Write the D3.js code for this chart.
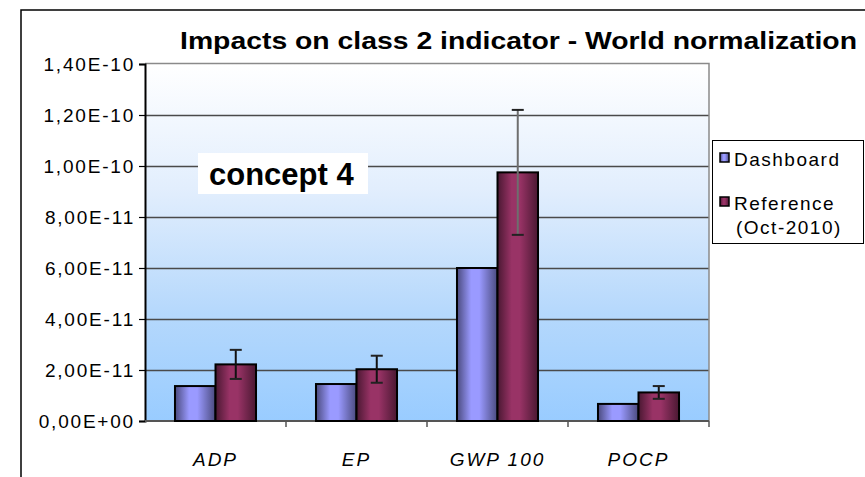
<!DOCTYPE html>
<html>
<head>
<meta charset="utf-8">
<script src="https://cdn.jsdelivr.net/npm/d3@7"></script>
<style>
  html, body { margin: 0; padding: 0; background: #ffffff; }
  svg { display: block; }
  text { font-family: "Liberation Sans", Arial, sans-serif; }
</style>
</head>
<body>
<div id="chart"></div>
<script>
// Indicator categories and series
const categories = ["ADP", "EP", "GWP 100", "POCP"];
const seriesNames = ["Dashboard", "Reference"];
const legendLabels = [["Dashboard"], ["Reference", "(Oct-2010)"]];
const dashboardValues = [1.37e-11, 1.45e-11, 6.0e-11, 0.67e-11];
const referenceValues = [2.22e-11, 2.03e-11, 9.75e-11, 1.12e-11];
const referenceErrors = [0.57e-11, 0.53e-11, 2.45e-11, 0.25e-11];
const yTicks = [0, 2e-11, 4e-11, 6e-11, 8e-11, 1e-10, 1.2e-10, 1.4e-10];
const titleText = "Impacts on class 2 indicator - World normalization";
const noteText = "concept 4";

const W = 865, H = 477;
const plot = { left: 145, right: 709, top: 64, bottom: 421 };

const svg = d3.select("#chart").append("svg")
  .attr("width", W).attr("height", H);

const defs = svg.append("defs");

// Plot background: white at top fading to light blue
const bg = defs.append("linearGradient").attr("id", "bgGrad")
  .attr("x1", 0).attr("y1", 0).attr("x2", 0).attr("y2", 1);
bg.append("stop").attr("offset", "0%").attr("stop-color", "#ffffff");
bg.append("stop").attr("offset", "35%").attr("stop-color", "#e2eefd");
bg.append("stop").attr("offset", "70%").attr("stop-color", "#b5d8fc");
bg.append("stop").attr("offset", "100%").attr("stop-color", "#99ccff");

// Cylinder-like shading for the bars
function barGradient(id, dark, light) {
  const g = defs.append("linearGradient").attr("id", id)
    .attr("x1", 0).attr("y1", 0).attr("x2", 1).attr("y2", 0);
  g.append("stop").attr("offset", "0%").attr("stop-color", dark);
  g.append("stop").attr("offset", "35%").attr("stop-color", light);
  g.append("stop").attr("offset", "55%").attr("stop-color", light);
  g.append("stop").attr("offset", "100%").attr("stop-color", dark);
}
barGradient("gradDash", "#4a4a7e", "#9a9aff");
barGradient("gradRef", "#4a1832", "#993366");
const fills = { Dashboard: "url(#gradDash)", Reference: "url(#gradRef)" };

// Outer chart frame
svg.append("rect")
  .attr("x", 21).attr("y", 10).attr("width", 1000).attr("height", 1000)
  .attr("fill", "none").attr("stroke", "#000").attr("stroke-width", 1.5);

// Scales
const x = d3.scaleBand().domain(categories)
  .range([plot.left, plot.right]).paddingInner(0).paddingOuter(0);
const xSub = d3.scaleBand().domain(seriesNames)
  .range([0, x.bandwidth()]).paddingInner(0).paddingOuter(0.74);
const y = d3.scaleLinear().domain([0, 1.4e-10]).range([plot.bottom, plot.top]);

// Background of plot area
svg.append("rect")
  .attr("x", plot.left).attr("y", plot.top)
  .attr("width", plot.right - plot.left).attr("height", plot.bottom - plot.top)
  .attr("fill", "url(#bgGrad)");

// Grid lines
svg.append("g").selectAll("line")
  .data(yTicks.filter(d => d > 0 && d < 1.4e-10))
  .join("line")
  .attr("x1", plot.left).attr("x2", plot.right)
  .attr("y1", d => Math.round(y(d)) + 0.5).attr("y2", d => Math.round(y(d)) + 0.5)
  .attr("stroke", "#4a4a4a").attr("stroke-width", 1.5);

// Plot top and right borders
svg.append("path")
  .attr("d", `M${plot.left},${plot.top - 0.5}H${plot.right}V${plot.bottom}`)
  .attr("fill", "none").attr("stroke", "#8a8a8a").attr("stroke-width", 1.5);

// Tick label format: 1,40E-10
function sciFormat(v) {
  const [m, e] = v.toExponential(2).split("e");
  const sign = e[0] === "-" ? "-" : "+";
  const digits = e.replace(/[+-]/, "").padStart(2, "0");
  return m.replace(".", ",") + "E" + sign + digits;
}

// Y axis
const yAxis = d3.axisLeft(y).tickValues(yTicks).tickFormat(sciFormat)
  .tickSize(6).tickPadding(4);
const yg = svg.append("g").attr("transform", `translate(${plot.left},0)`).call(yAxis);
yg.select(".domain").attr("stroke", "#000").attr("stroke-width", 2);
yg.selectAll(".tick line").attr("stroke", "#000").attr("stroke-width", 1.2);
yg.selectAll(".tick text")
  .attr("font-size", 19).attr("letter-spacing", 1.8).attr("fill", "#000")
  .attr("font-family", "'Liberation Sans', Arial, sans-serif");

// X axis
const bottomAxis = svg.append("g").attr("transform", `translate(0,${plot.bottom})`);
bottomAxis.append("line")
  .attr("x1", plot.left).attr("x2", plot.right)
  .attr("stroke", "#555").attr("stroke-width", 2);
bottomAxis.selectAll("line.tk")
  .data(categories)
  .join("line").attr("class", "tk")
  .attr("x1", d => x(d) + x.bandwidth()).attr("x2", d => x(d) + x.bandwidth())
  .attr("y1", 0).attr("y2", 6)
  .attr("stroke", "#555").attr("stroke-width", 1.5);
bottomAxis.selectAll("text")
  .data(categories)
  .join("text")
  .attr("x", d => x(d) + x.bandwidth() / 2)
  .attr("y", 45)
  .attr("text-anchor", "middle")
  .attr("font-size", 19).attr("font-style", "italic").attr("letter-spacing", 2)
  .attr("fill", "#000")
  .text(d => d);

// Bars
const rows = categories.map((c, i) => ({
  cat: c,
  vals: [
    { s: "Dashboard", v: dashboardValues[i] },
    { s: "Reference", v: referenceValues[i], err: referenceErrors[i] }
  ]
}));

const groups = svg.append("g").selectAll("g")
  .data(rows).join("g")
  .attr("transform", d => `translate(${x(d.cat)},0)`);

groups.selectAll("rect")
  .data(d => d.vals).join("rect")
  .attr("x", d => xSub(d.s))
  .attr("y", d => y(d.v))
  .attr("width", xSub.bandwidth())
  .attr("height", d => y(0) - y(d.v))
  .attr("fill", d => fills[d.s])
  .attr("stroke", "#000").attr("stroke-width", 2);

// Error bars on the reference series
const errs = groups.selectAll("g.err")
  .data(d => d.vals.filter(v => v.err != null)).join("g").attr("class", "err");
errs.append("line")
  .attr("x1", d => xSub(d.s) + xSub.bandwidth() / 2)
  .attr("x2", d => xSub(d.s) + xSub.bandwidth() / 2)
  .attr("y1", d => y(d.v + d.err)).attr("y2", d => y(d.v - d.err))
  .attr("stroke", d => d.err > 2e-11 ? "#6e6e6e" : "#111").attr("stroke-width", 2);
errs.selectAll("line.cap")
  .data(d => [d.v + d.err, d.v - d.err].map(t => ({ t, s: d.s })))
  .join("line").attr("class", "cap")
  .attr("x1", d => xSub(d.s) + xSub.bandwidth() / 2 - 6)
  .attr("x2", d => xSub(d.s) + xSub.bandwidth() / 2 + 6)
  .attr("y1", d => y(d.t)).attr("y2", d => y(d.t))
  .attr("stroke", "#222").attr("stroke-width", 2);

// Title
svg.append("text")
  .attr("x", 180).attr("y", 49)
  .attr("font-size", 24).attr("font-weight", "bold")
  .attr("textLength", 677).attr("lengthAdjust", "spacingAndGlyphs")
  .attr("fill", "#000")
  .text(titleText);

// Annotation box
svg.append("rect")
  .attr("x", 198).attr("y", 153).attr("width", 170).attr("height", 41)
  .attr("fill", "#ffffff");
svg.append("text")
  .attr("x", 209).attr("y", 185)
  .attr("font-size", 31).attr("font-weight", "bold")
  .attr("fill", "#000")
  .text(noteText);

// Legend
const lg = svg.append("g");
lg.append("rect")
  .attr("x", 712.5).attr("y", 140.5).attr("width", 151).attr("height", 103)
  .attr("fill", "#fff").attr("stroke", "#000").attr("stroke-width", 1);
const legendY = [153, 197];
seriesNames.forEach((s, i) => {
  lg.append("rect")
    .attr("x", 720).attr("y", legendY[i]).attr("width", 9).attr("height", 9)
    .attr("fill", fills[s]).attr("stroke", "#000").attr("stroke-width", 1.5);
  legendLabels[i].forEach((line, j) => {
    lg.append("text")
      .attr("x", j === 0 ? 734 : 736)
      .attr("y", legendY[i] + 13 + j * 24)
      .attr("font-size", 19).attr("letter-spacing", 1.5)
      .attr("fill", "#000")
      .text(line);
  });
});
</script>
</body>
</html>
